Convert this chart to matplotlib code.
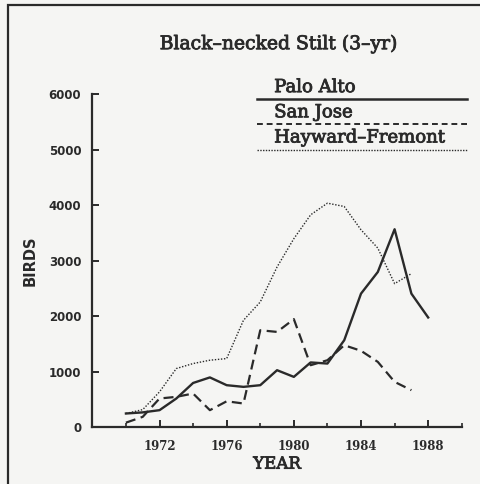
import matplotlib.pyplot as plt
import matplotlib.patheffects as pe
from matplotlib.lines import Line2D
from matplotlib.patches import Rectangle
from matplotlib.ticker import MultipleLocator

# Black-necked Stilt counts, 3-year running means
years = list(range(1970, 1989))
palo_alto = [250, 270, 310, 520, 800, 900, 760, 730, 760, 1030,
             910, 1170, 1150, 1570, 2410, 2800, 3570, 2410, 1980]
years_sj = list(range(1970, 1988))
san_jose = [85, 190, 520, 550, 610, 310, 470, 430, 1750, 1720,
            1950, 1120, 1210, 1480, 1380, 1180, 820, 670]
years_hf = list(range(1970, 1988))
hayward_fremont = [250, 320, 640, 1060, 1150, 1210, 1240, 1930, 2260, 2890,
                   3400, 3830, 4040, 3980, 3560, 3230, 2590, 2770]
series_names = ["Palo Alto", "San Jose", "Hayward\u2013Fremont"]

ink = "#2a2a2a"
bg = "#f5f5f3"
serif = "DejaVu Serif"
heavy = [pe.withStroke(linewidth=0.6, foreground=ink)]

fig = plt.figure(figsize=(4.81, 4.84), dpi=100, facecolor=bg)
ax = fig.add_axes([0.192, 0.117, 0.768, 0.688], facecolor=bg)

ax.plot(years, palo_alto, color=ink, lw=1.7, linestyle="-")
ax.plot(years_sj, san_jose, color=ink, lw=1.6, linestyle=(0, (4.5, 2.5)))
ax.plot(years_hf, hayward_fremont, color=ink, lw=1.0, linestyle=(0, (1, 1.2)))

ax.set_xlim(1968, 1990)
ax.set_ylim(0, 6000)
ax.xaxis.set_minor_locator(MultipleLocator(2))
ax.set_xticks([1972, 1976, 1980, 1984, 1988])
ax.set_yticks(range(0, 6001, 1000))

for s in ["top", "right"]:
    ax.spines[s].set_visible(False)
for s in ["left", "bottom"]:
    ax.spines[s].set_color(ink)
    ax.spines[s].set_linewidth(1.6)

ax.tick_params(axis="both", which="major", direction="in", length=5, width=1.4,
               color=ink, labelcolor=ink)
ax.tick_params(axis="x", which="minor", direction="in", length=3, width=1.2, color=ink)
ax.tick_params(axis="y", pad=8)
ax.tick_params(axis="x", pad=9)
for lab in ax.get_xticklabels():
    lab.set_fontfamily(serif)
    lab.set_fontweight("bold")
    lab.set_fontsize(8.5)
for lab in ax.get_yticklabels():
    lab.set_fontfamily("DejaVu Sans")
    lab.set_fontweight("bold")
    lab.set_fontsize(8.5)

ax.set_xlabel("YEAR", fontfamily=serif, fontsize=12, color=ink, labelpad=2,
              path_effects=heavy)
ax.set_ylabel("BIRDS", fontfamily="DejaVu Sans", fontweight="bold", fontsize=10.5,
              color=ink, labelpad=8)

fig.text(0.578, 0.909, "Black\u2013necked Stilt (3\u2013yr)", ha="center", va="center",
         fontfamily=serif, fontsize=13.5, color=ink, path_effects=heavy)

# legend drawn as labels over lines, like the original
styles = [dict(lw=1.8, linestyle="-"),
          dict(lw=1.4, linestyle=(0, (3, 2))),
          dict(lw=1.0, linestyle=(0, (1, 1)))]
text_y = [0.820, 0.768, 0.716]
line_y = [0.796, 0.744, 0.690]
for name, ty, ly, st in zip(series_names, text_y, line_y, styles):
    fig.text(0.570, ty, name, ha="left", va="center", fontfamily=serif,
             fontsize=13, color=ink, path_effects=heavy)
    fig.add_artist(Line2D([0.534, 0.970], [ly, ly], color=ink,
                          transform=fig.transFigure, **st))

# frame around the page (right and bottom edges fall outside the image)
fig.add_artist(Rectangle((0.017, -0.05), 1.1, 1.04, transform=fig.transFigure,
                         fill=False, edgecolor=ink, lw=1.6))

fig.savefig("out.png", dpi=100, facecolor=bg)
